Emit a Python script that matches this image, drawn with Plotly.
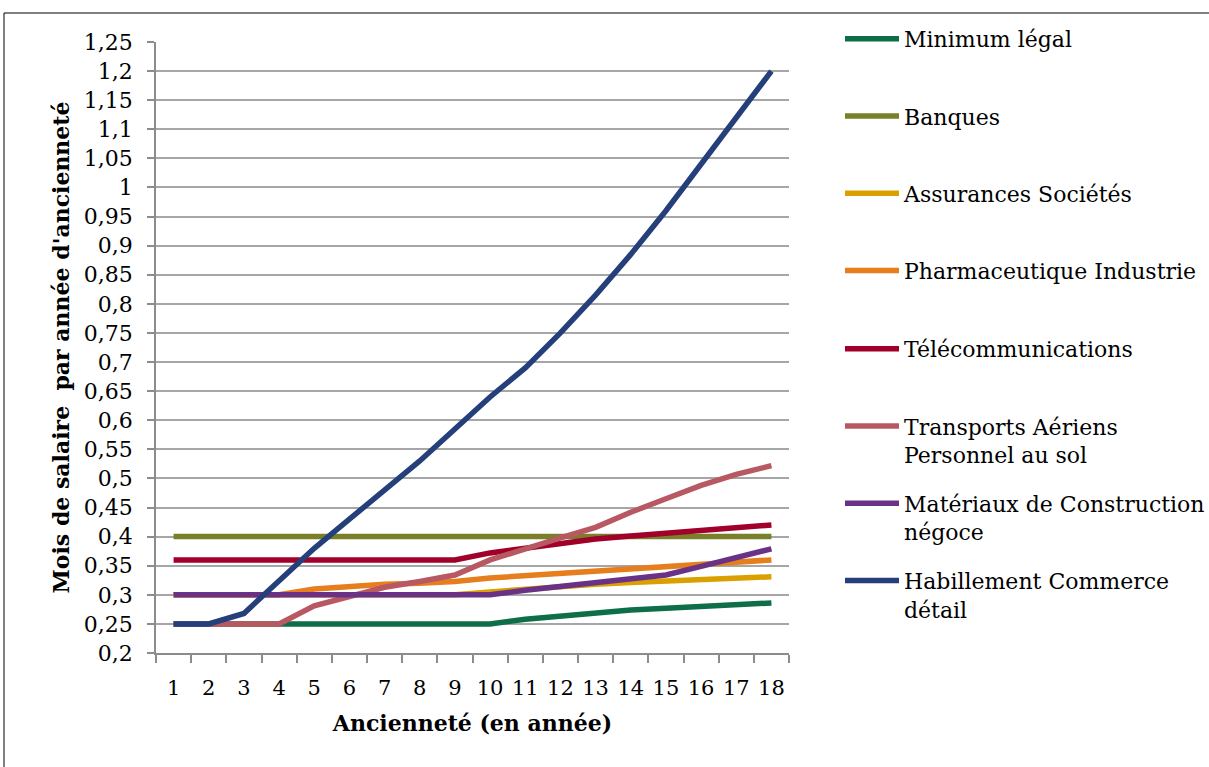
import plotly.graph_objects as go

years = [str(i) for i in range(1, 19)]

minimum_legal = [0.25, 0.25, 0.25, 0.25, 0.25, 0.25, 0.25, 0.25, 0.25, 0.25,
                 0.258, 0.264, 0.27, 0.274, 0.277, 0.28, 0.283, 0.286]
banques = [0.4] * 18
assurances = [0.3, 0.3, 0.3, 0.3, 0.3, 0.3, 0.3, 0.3, 0.3, 0.305,
              0.31, 0.314, 0.318, 0.321, 0.324, 0.326, 0.328, 0.331]
pharma = [0.3, 0.3, 0.3, 0.3, 0.31, 0.315, 0.318, 0.32, 0.323, 0.329,
          0.333, 0.337, 0.341, 0.344, 0.348, 0.353, 0.357, 0.36]
telecom = [0.36, 0.36, 0.36, 0.36, 0.36, 0.36, 0.36, 0.36, 0.36, 0.372,
           0.38, 0.388, 0.396, 0.401, 0.406, 0.411, 0.415, 0.42]
transports = [0.25, 0.25, 0.25, 0.25, 0.281, 0.298, 0.313, 0.323, 0.334, 0.36,
              0.38, 0.398, 0.416, 0.442, 0.465, 0.488, 0.507, 0.522]
materiaux = [0.3, 0.3, 0.3, 0.3, 0.3, 0.3, 0.3, 0.3, 0.3, 0.3,
             0.308, 0.315, 0.322, 0.328, 0.334, 0.349, 0.364, 0.379]
habillement = [0.25, 0.25, 0.268, 0.325, 0.38, 0.43, 0.48, 0.53, 0.585, 0.64,
               0.69, 0.75, 0.815, 0.885, 0.96, 1.04, 1.12, 1.2]

series_names = [
    "Minimum légal<br>\u00a0",
    "Banques<br>\u00a0",
    "Assurances Sociétés<br>\u00a0",
    "Pharmaceutique Industrie<br>\u00a0",
    "Télécommunications<br>\u00a0",
    "Transports Aériens<br>Personnel au sol",
    "Matériaux de Construction<br>négoce",
    "Habillement Commerce<br>détail",
]
series_values = [minimum_legal, banques, assurances, pharma, telecom,
                 transports, materiaux, habillement]
series_colors = ["#0E6E47", "#7A7F2A", "#D9A000", "#E67E1E", "#A0002A",
                 "#B85862", "#6A3287", "#243F7A"]

FONT = "DejaVu Serif"
FS = 22

fig = go.Figure()
for i, (name, vals, col) in enumerate(zip(series_names, series_values, series_colors)):
    fig.add_trace(go.Scatter(
        x=years, y=vals, name=name, mode="lines",
        line=dict(color=col, width=5.5),
        legendgroup=f"g{i}",
        legend="legend" if i < 4 else "legend2",
    ))

leg_common = dict(
    xanchor="left", yanchor="top",
    font=dict(family=FONT, size=FS, color="black"),
    valign="top", tracegroupgap=17, itemwidth=54,
    bgcolor="rgba(0,0,0,0)",
)

fig.update_layout(
    width=1209, height=767,
    margin=dict(l=156, r=420, t=42, b=114, autoexpand=False),
    paper_bgcolor="white", plot_bgcolor="white",
    separators=", ",
    font=dict(family=FONT, size=FS, color="black"),
    showlegend=True,
    legend=dict(x=(840 - 156) / 633, y=(653 - 18) / 611, **leg_common),
    legend2=dict(x=(840 - 156) / 633, y=(653 - 328) / 611, **leg_common),
    xaxis=dict(
        type="category", range=[-0.5, 17.5],
        tickson="boundaries", ticks="outside", ticklen=8,
        tickcolor="#8c8c8c", tickwidth=1.5, tickangle=0,
        tickfont=dict(family=FONT, size=21),
        showline=True, linecolor="#8c8c8c", linewidth=1.5,
        showgrid=False, zeroline=False,
        ticklabelstandoff=15,
        title=dict(text="<b>Ancienneté (en année)</b>", standoff=17,
                   font=dict(family=FONT, size=22)),
    ),
    yaxis=dict(
        range=[0.2, 1.25], dtick=0.05, tick0=0.2, tickformat=".2~f",
        ticks="outside", ticklen=7, tickcolor="#8c8c8c", tickwidth=1.5,
        showline=True, linecolor="#8c8c8c", linewidth=1.5,
        showgrid=True, gridcolor="#a6a6a6", gridwidth=1.5,
        zeroline=False, ticklabelstandoff=10,
        title=dict(text="<b>Mois de salaire  par année d'ancienneté</b>", standoff=8,
                   font=dict(family=FONT, size=22)),
    ),
    shapes=[dict(type="rect", xref="paper", yref="paper",
                 x0=(4 - 156) / 633, x1=(1215 - 156) / 633,
                 y0=(653 - 775) / 611, y1=(653 - 13) / 611,
                 line=dict(color="black", width=1), layer="below")],
)

fig.write_html("out.html", config={"displayModeBar": False},
               post_script="document.body.style.margin='0';")
